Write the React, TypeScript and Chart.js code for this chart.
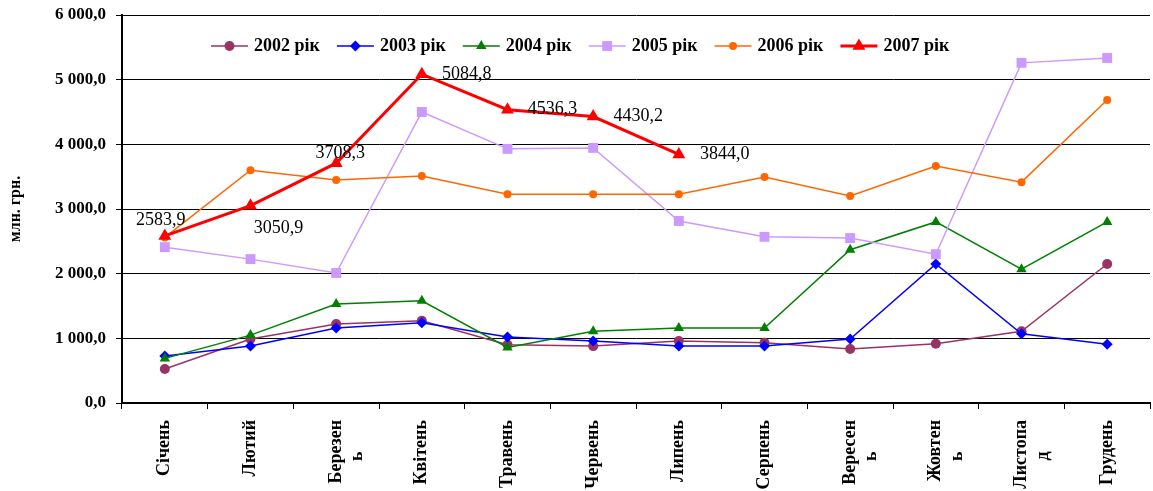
import React, { useEffect, useRef } from 'react';
import { Chart, registerables } from 'chart.js';

Chart.register(...registerables);

const NB = '\u00A0';
const tail = (s: string) => s + NB.repeat(7);

const months: (string | string[])[] = [
  'Січень', 'Лютий', ['Березен', tail('ь')], 'Квітень', 'Травень', 'Червень',
  'Липень', 'Серпень', ['Вересен', tail('ь')], ['Жовтен', tail('ь')], ['Листопа', tail('д')], 'Грудень',
];

const seriesNames = ['2002 рік', '2003 рік', '2004 рік', '2005 рік', '2006 рік', '2007 рік'];

const s2002 = [525, 990, 1220, 1270, 900, 880, 960, 930, 835, 915, 1110, 2150];
const s2003 = [725, 880, 1160, 1240, 1020, 960, 880, 880, 990, 2150, 1070, 910];
const s2004 = [690, 1050, 1530, 1580, 860, 1110, 1160, 1160, 2370, 2800, 2070, 2800];
const s2005 = [2410, 2225, 2010, 4500, 3930, 3945, 2815, 2570, 2550, 2300, 5260, 5335];
const s2006 = [2560, 3600, 3450, 3510, 3230, 3230, 3230, 3495, 3200, 3665, 3415, 4685];
const s2007 = [2583.9, 3050.9, 3708.3, 5084.8, 4536.3, 4430.2, 3844.0, null, null, null, null, null];

const yTicksMax = 6000;
const yTickStep = 1000;

const colors = ['#993366', '#0000FF', '#008000', '#CC99FF', '#FF6600', '#FF0000'];
const markers = ['circle', 'rectRot', 'triangle', 'rect', 'circle', 'triangle'];
const markerRadius = [5, 5.5, 6, 7, 4, 7.5];
const lineWidths = [1.5, 1.5, 1.5, 1.5, 1.5, 3];

// text offsets of 2007 value labels relative to their points (label centre)
const labelOffsets = [[-4, -16], [28, 23], [4, -10], [45, 0], [45, 0], [45, 0], [46, 0]];

const SERIF = '"Liberation Serif", "Times New Roman", serif';

function fmtAxis(v: number) {
  const [i, d] = v.toFixed(1).split('.');
  return i.replace(/\B(?=(\d{3})+(?!\d))/g, ' ') + ',' + d;
}

function drawMarker(ctx: CanvasRenderingContext2D, style: string, x: number, y: number, r: number, color: string) {
  ctx.save();
  ctx.fillStyle = color;
  ctx.beginPath();
  if (style === 'circle') {
    ctx.arc(x, y, r, 0, Math.PI * 2);
  } else if (style === 'rectRot') {
    ctx.moveTo(x, y - r);
    ctx.lineTo(x + r, y);
    ctx.lineTo(x, y + r);
    ctx.lineTo(x - r, y);
    ctx.closePath();
  } else if (style === 'triangle') {
    ctx.moveTo(x, y - r);
    ctx.lineTo(x + r * 0.866, y + r / 2);
    ctx.lineTo(x - r * 0.866, y + r / 2);
    ctx.closePath();
  } else {
    const s = r * Math.SQRT1_2;
    ctx.rect(x - s, y - s, 2 * s, 2 * s);
  }
  ctx.fill();
  ctx.restore();
}

const legendPlugin = {
  id: 'customLegend',
  afterDatasetsDraw(chart: any) {
    const { ctx, chartArea } = chart;
    ctx.save();
    ctx.font = `bold 18px ${SERIF}`;
    ctx.textBaseline = 'middle';
    ctx.textAlign = 'left';
    let x = chartArea.left + 89;
    const y = chartArea.top + 31;
    chart.data.datasets.forEach((ds: any, i: number) => {
      ctx.strokeStyle = colors[i];
      ctx.lineWidth = lineWidths[i];
      ctx.beginPath();
      ctx.moveTo(x, y);
      ctx.lineTo(x + 37, y);
      ctx.stroke();
      drawMarker(ctx, markers[i], x + 18.5, y, markerRadius[i], colors[i]);
      ctx.fillStyle = '#000';
      ctx.fillText(ds.label, x + 43, y);
      x += 43 + ctx.measureText(ds.label).width + 17;
    });
    ctx.restore();
  },
};

const valueLabelPlugin = {
  id: 'valueLabels',
  afterDatasetsDraw(chart: any) {
    const { ctx } = chart;
    const idx = chart.data.datasets.length - 1;
    const meta = chart.getDatasetMeta(idx);
    const data = chart.data.datasets[idx].data;
    ctx.save();
    ctx.font = `18px ${SERIF}`;
    ctx.fillStyle = '#000';
    ctx.textAlign = 'center';
    ctx.textBaseline = 'middle';
    meta.data.forEach((pt: any, i: number) => {
      const v = data[i];
      if (v === null || v === undefined) return;
      const off = labelOffsets[i] || [0, -14];
      ctx.fillText(Number(v).toFixed(1).replace('.', ','), pt.x + off[0], pt.y + off[1]);
    });
    ctx.restore();
  },
};

export default function App() {
  const ref = useRef<HTMLCanvasElement | null>(null);

  useEffect(() => {
    document.body.style.margin = '0';
    document.body.style.overflow = 'hidden';
    const allSeries = [s2002, s2003, s2004, s2005, s2006, s2007];
    const chart = new Chart(ref.current as HTMLCanvasElement, {
      type: 'line',
      data: {
        labels: months as any,
        datasets: allSeries.map((d, i) => ({
          label: seriesNames[i],
          data: d as any,
          borderColor: colors[i],
          backgroundColor: colors[i],
          borderWidth: lineWidths[i],
          pointStyle: markers[i] as any,
          pointRadius: markerRadius[i],
          pointBorderWidth: 0,
          pointBackgroundColor: colors[i],
          pointBorderColor: colors[i],
          tension: 0,
          spanGaps: false,
          order: i === 5 ? 0 : 6 - i,
        })),
      },
      options: {
        animation: false,
        responsive: false,
        devicePixelRatio: 1,
        layout: { autoPadding: false, padding: { top: 15, right: 3, bottom: 0, left: 0 } },
        plugins: {
          legend: { display: false },
          tooltip: { enabled: false },
        },
        scales: {
          x: {
            type: 'category',
            offset: true,
            grid: {
              display: true,
              drawOnChartArea: false,
              drawTicks: true,
              tickLength: 6,
              color: '#000',
              offset: true,
            },
            border: { display: true, color: '#000', width: 2 },
            ticks: {
              minRotation: 90,
              maxRotation: 90,
              autoSkip: false,
              color: '#000',
              padding: 11,
              font: { family: SERIF, size: 18, weight: 'bold' },
            },
            afterFit: (s: any) => { s.height = 88; s.paddingLeft = 0; s.paddingRight = 0; },
          },
          y: {
            min: 0,
            max: yTicksMax,
            ticks: {
              stepSize: yTickStep,
              color: '#000',
              padding: 10,
              font: { family: SERIF, size: 17, weight: 'bold' },
              callback: (v: any) => fmtAxis(Number(v)),
            },
            grid: { color: '#000', lineWidth: 1, tickLength: 6 },
            border: { display: true, color: '#000', width: 2 },
            title: {
              display: true,
              text: 'млн. грн.',
              color: '#000',
              padding: { top: 6, bottom: 0 },
              font: { family: SERIF, size: 16, weight: 'bold' },
            },
            afterFit: (s: any) => { s.width = 122; s.paddingTop = 0; s.paddingBottom = 0; },
          },
        },
      } as any,
      plugins: [legendPlugin, valueLabelPlugin],
    });
    return () => chart.destroy();
  }, []);

  return (
    <div style={{ width: 1153, height: 491, background: '#fff' }}>
      <canvas ref={ref} width={1153} height={491} style={{ display: 'block' }} />
    </div>
  );
}
